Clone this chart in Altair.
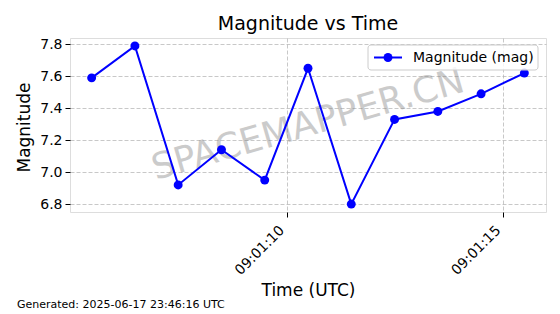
import altair as alt
import pandas as pd

# ---- data ----
times = [
    "2025-06-17T09:01:05.490Z", "2025-06-17T09:01:06.490Z", "2025-06-17T09:01:07.490Z",
    "2025-06-17T09:01:08.490Z", "2025-06-17T09:01:09.490Z", "2025-06-17T09:01:10.490Z",
    "2025-06-17T09:01:11.490Z", "2025-06-17T09:01:12.490Z", "2025-06-17T09:01:13.490Z",
    "2025-06-17T09:01:14.490Z", "2025-06-17T09:01:15.490Z",
]
magnitudes = [7.59, 7.79, 6.92, 7.14, 6.95, 7.65, 6.80, 7.33, 7.38, 7.49, 7.62]
series_name = "Magnitude (mag)"
x_tick_seconds = [10, 15]
y_ticks = [6.8, 7.0, 7.2, 7.4, 7.6, 7.8]
title_text = "Magnitude vs Time"
footer_text = "Generated: 2025-06-17 23:46:16 UTC"
watermark_text = "SPACEMAPPER.CN"

FONT = "DejaVu Sans"
BLUE = "#0000ff"

df = pd.DataFrame({"time": times, "mag": magnitudes, "series": [series_name] * len(times)})


def dt(sec, ms=0):
    return alt.DateTime(year=2025, month=6, date=17, hours=9, minutes=1,
                        seconds=sec, milliseconds=ms, utc=True)


x_enc = alt.X(
    "time:T",
    scale=alt.Scale(type="utc", domain=[dt(4, 990), dt(15, 990)]),
    axis=alt.Axis(
        values=[dt(s) for s in x_tick_seconds],
        tickCount=len(x_tick_seconds),
        format="%H:%M:%S",
        labelAngle=315,
        labelAlign="right",
        labelBaseline="top",
        labelOffset=-10,
        labelOverlap=False,
        labelFont=FONT, labelFontSize=14, labelColor="black",
        labelPadding=6,
        tickColor="black", tickSize=5,
        domain=False,
        grid=True, gridColor="#b0b0b0", gridOpacity=0.7, gridDash=[4, 2],
        title="Time (UTC)", titleFont=FONT, titleFontSize=17, titleFontWeight="normal",
        titleColor="black", titleBaseline="alphabetic", titleY=83,
    ),
)
y_enc = alt.Y(
    "mag:Q",
    scale=alt.Scale(domain=[6.7505, 7.8395], nice=False, zero=False),
    axis=alt.Axis(
        values=y_ticks, format=".1f",
        tickCount=len(y_ticks),
        labelOverlap=False,
        labelFont=FONT, labelFontSize=14, labelColor="black", labelPadding=3,
        tickColor="black", tickSize=5,
        domain=False,
        grid=True, gridColor="#b0b0b0", gridOpacity=0.7, gridDash=[4, 2],
        title="Magnitude", titleFont=FONT, titleFontSize=17, titleFontWeight="normal",
        titleColor="black", titleBaseline="alphabetic", titleX=-41, titleY=89,
    ),
)

wm_df = pd.DataFrame({"t": [watermark_text]})
watermark = alt.Chart(wm_df).mark_text(
    font=FONT, fontSize=36, color="gray", opacity=0.4, angle=344,
    align="center", baseline="middle"
).encode(x=alt.value(238), y=alt.value(87), text="t:N")

line = alt.Chart(df).mark_line(color=BLUE, strokeWidth=2).encode(x=x_enc, y=y_enc)
points = alt.Chart(df).mark_point(color=BLUE, filled=True, size=80, opacity=1).encode(x="time:T", y="mag:Q")

legend_df = pd.DataFrame({"label": [series_name]})
leg_box = alt.Chart(legend_df).mark_rect(
    fill="white", fillOpacity=0.8, stroke="#cccccc", strokeWidth=1, cornerRadius=3
).encode(x=alt.value(298), x2=alt.value(468), y=alt.value(7), y2=alt.value(32))
leg_line = alt.Chart(legend_df).mark_rule(color=BLUE, strokeWidth=2).encode(
    x=alt.value(304), x2=alt.value(332), y=alt.value(19.5))
leg_pt = alt.Chart(legend_df).mark_point(color=BLUE, filled=True, size=80, opacity=1).encode(
    x=alt.value(318), y=alt.value(19.5))
leg_txt = alt.Chart(legend_df).mark_text(
    align="left", baseline="middle", font=FONT, fontSize=14, color="black"
).encode(x=alt.value(343), y=alt.value(19.5), text="label:N")

ft_df = pd.DataFrame({"t": [footer_text]})
footer = alt.Chart(ft_df).mark_text(
    font=FONT, fontSize=11, color="black", align="left", baseline="middle"
).encode(x=alt.value(-53), y=alt.value(267), text="t:N")

tt_df = pd.DataFrame({"t": [title_text]})
title = alt.Chart(tt_df).mark_text(
    font=FONT, fontSize=19, color="black", align="center", baseline="alphabetic"
).encode(x=alt.value(238), y=alt.value(-8), text="t:N")

chart = alt.layer(watermark, line, points, leg_box, leg_line, leg_pt, leg_txt, footer, title).properties(
    width=476, height=174,
    autosize=alt.AutoSizeParams(type="none"),
    padding={"left": 70, "top": 38, "right": 14, "bottom": 102},
).configure_view(stroke="black", strokeWidth=1.2).configure(background="white")

chart.save("out.html", embed_options={"renderer": "svg", "actions": False})
